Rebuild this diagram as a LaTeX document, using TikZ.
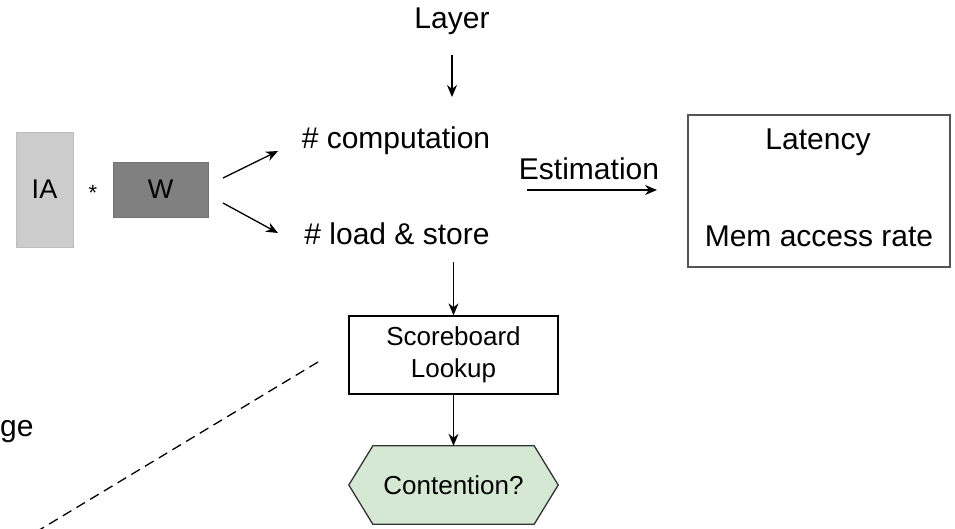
\documentclass[tikz,border=0pt]{standalone}
\usepackage{fontspec}
\setmainfont{Liberation Sans}
\usetikzlibrary{arrows.meta,calc}
\definecolor{iafill}{HTML}{CCCCCC}
\definecolor{iadraw}{HTML}{BDBDBD}
\definecolor{wfill}{HTML}{808080}
\definecolor{wdraw}{HTML}{737373}
\definecolor{hexfill}{HTML}{D5E8D4}
\definecolor{boxdraw}{HTML}{555555}
\tikzset{
  big/.style={font=\fontsize{30}{34}\selectfont, inner sep=0pt},
  mid/.style={font=\fontsize{26}{32}\selectfont, inner sep=0pt, align=center},
  conn/.style={line width=1.3pt, -{Stealth[length=12pt,width=10pt]}},
}
\begin{document}
\begin{tikzpicture}[x=1pt,y=-1pt]
\useasboundingbox (0,0) rectangle (955,528);
% left blocks
\node[draw=iadraw, fill=iafill, line width=1pt, minimum width=57pt, minimum height=115pt, inner sep=0pt,
      font=\fontsize{27}{30}\selectfont] (ia) at (44.5,189.5) {IA};
\node[font=\fontsize{22}{24}\selectfont, inner sep=0pt] (star) at (93,193) {*};
\node[draw=wdraw, fill=wfill, line width=1pt, minimum width=95pt, minimum height=55pt, inner sep=0pt,
      font=\fontsize{27}{30}\selectfont] (w) at (160.5,189.5) {W};
% texts
\node[big] (layer) at (452,21) {Layer};
\node[big] (comp) at (396,141) {\# computation};
\node[big] (ls) at (397,234) {\# load \& store};
\node[big] (est) at (589,169) {Estimation};
\node[draw=boxdraw, line width=1.3pt, minimum width=262pt, minimum height=152pt, inner sep=0pt] (lat) at (819,191) {};
\node[big] (latency) at (818,142) {Latency};
\node[big] (mem) at (819,236) {Mem access rate};
\node[big, anchor=west] (ge) at (0,432) {ge};
% scoreboard
\node[draw, line width=1.3pt, minimum width=209pt, minimum height=78pt, inner sep=0pt, mid] (sb) at (453.5,355)
  {Scoreboard\\Lookup};
% hexagon
\node[mid, minimum width=209pt, minimum height=78pt] (cont) at (453.5,485) {};
\draw[fill=hexfill, line width=1.3pt, draw=black!80]
  (cont.west) -- ($(cont.north west)+(24,0)$) -- ($(cont.north east)+(-24,0)$) -- (cont.east)
  -- ($(cont.south east)+(-24,0)$) -- ($(cont.south west)+(24,0)$) -- cycle;
\node[mid] at (cont.center) {Contention?};
% connectors
\coordinate (w1) at (223,178);
\coordinate (w1e) at (278,151);
\coordinate (w2) at (223,203);
\coordinate (w2e) at (278,233);
\draw[conn] (w1) -- (w1e);
\draw[conn] (w2) -- (w2e);
\coordinate (la) at (452,55);
\coordinate (lb) at (452,97);
\draw[conn] (la) -- (lb);
\coordinate (ea) at (527,190);
\coordinate (eb) at (657,190);
\draw[conn] (ea) -- (eb);
\coordinate (lsb) at (453.5,262);
\draw[conn] (lsb) -- (sb.north);
\draw[conn] (sb.south) -- (cont.north);
% dashed line
\coordinate (da) at (318,362);
\coordinate (db) at (36,532);
\draw[line width=1.3pt, dash pattern=on 10pt off 6pt] (da) -- (db);
\end{tikzpicture}
\end{document}
